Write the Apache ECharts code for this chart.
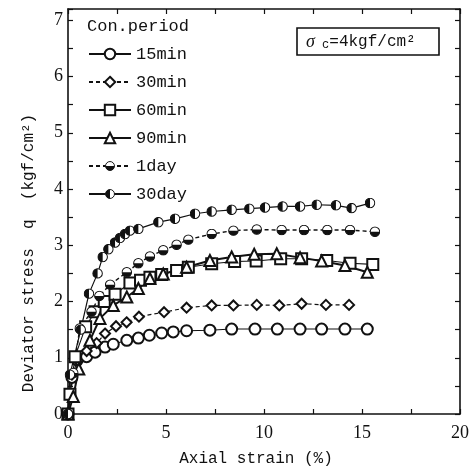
<!DOCTYPE html>
<html>
<head>
<meta charset="utf-8">
<script src="https://cdn.jsdelivr.net/npm/echarts@6/dist/echarts.min.js"></script>
<style>html,body{margin:0;padding:0;background:#fff;}#c{width:472px;height:470px;}</style>
</head>
<body>
<div id="c"></div>
<script>
const seriesNames = ['15min','30min','60min','90min','1day','30day'];
const xTicks = [0,5,10,15,20];
const yTicks = [0,1,2,3,4,5,6,7];

const d15min = [[0,0],[0.2,0.65],[0.48,0.96],[0.95,1.02],[1.38,1.1],[1.89,1.19],[2.31,1.24],[3.0,1.31],[3.59,1.35],[4.15,1.4],[4.78,1.44],[5.37,1.46],[6.05,1.48],[7.24,1.49],[8.35,1.51],[9.54,1.51],[10.68,1.51],[11.84,1.51],[12.94,1.51],[14.13,1.51],[15.27,1.51]];
const d30min = [[0,0],[0.2,0.7],[0.5,0.95],[0.95,1.12],[1.46,1.26],[1.89,1.43],[2.45,1.56],[2.99,1.63],[3.62,1.73],[4.9,1.81],[6.05,1.89],[7.33,1.93],[8.44,1.93],[9.63,1.94],[10.78,1.93],[11.92,1.96],[13.16,1.94],[14.34,1.94]];
const d60min = [[0,0],[0.1,0.35],[0.36,1.02],[0.9,1.55],[1.38,1.82],[1.85,2.0],[2.4,2.13],[3.16,2.33],[3.7,2.38],[4.18,2.43],[4.78,2.48],[5.54,2.55],[6.14,2.61],[7.33,2.67],[8.5,2.71],[9.6,2.72],[10.85,2.76],[11.92,2.76],[13.2,2.73],[14.39,2.68],[15.55,2.66]];
const d90min = [[0,0],[0.27,0.31],[0.55,0.8],[1.12,1.31],[1.63,1.7],[2.31,1.93],[3.0,2.08],[3.59,2.23],[4.18,2.41],[4.86,2.49],[6.05,2.61],[7.24,2.73],[8.35,2.79],[9.5,2.84],[10.65,2.85],[11.84,2.78],[12.94,2.72],[14.13,2.64],[15.27,2.52]];
const d1day = [[0,0],[0.27,0.73],[0.6,1.52],[1.2,1.82],[1.6,2.1],[2.15,2.3],[3.0,2.52],[3.59,2.68],[4.18,2.8],[4.86,2.91],[5.54,3.01],[6.14,3.1],[7.33,3.2],[8.44,3.26],[9.63,3.28],[10.9,3.27],[12.04,3.27],[13.23,3.27],[14.39,3.27],[15.66,3.24]];
const d30day = [[0,0],[0.1,0.7],[0.65,1.5],[1.07,2.14],[1.51,2.5],[1.77,2.79],[2.06,2.93],[2.4,3.05],[2.65,3.13],[2.91,3.2],[3.16,3.26],[3.59,3.29],[4.61,3.41],[5.46,3.47],[6.48,3.56],[7.33,3.6],[8.35,3.63],[9.25,3.65],[10.05,3.67],[10.95,3.69],[11.84,3.69],[12.69,3.72],[13.67,3.71],[14.47,3.66],[15.41,3.75]];

const INK = '#111';
function halfSym(pathD){
  const svg = "<svg xmlns='http://www.w3.org/2000/svg' width='24' height='24' viewBox='0 0 24 24'>" +
    "<circle cx='12' cy='12' r='10.3' fill='white' stroke='#111' stroke-width='2.2'/>" +
    "<path d='" + pathD + "' fill='#111'/></svg>";
  return 'image://data:image/svg+xml;charset=utf-8,' + encodeURIComponent(svg);
}
const symBottom = halfSym('M1.7 12 A10.3 10.3 0 0 0 22.3 12 Z');
const symLeft = halfSym('M12 1.7 A10.3 10.3 0 0 0 12 22.3 Z');

const MONO = 'Liberation Mono';
const SERIF = 'Liberation Serif';

function mk(name, data, symbol, size, lw, type){
  return {
    name, type:'line', data, symbol, symbolSize:size,
    xAxisIndex:0, yAxisIndex:0,
    lineStyle:{color:INK, width:lw, type:type},
    itemStyle:{color:INK, borderColor:INK, borderWidth:1.1},
    emphasis:{disabled:true}, animation:false
  };
}

const chart = echarts.init(document.getElementById('c'), null, {renderer:'canvas'});
function axisCommon(){
  return {
    axisLine:{show:true, onZero:false, lineStyle:{color:INK, width:1.6}},
    axisTick:{show:true, inside:true, length:5, lineStyle:{color:INK, width:1.2}},
    splitLine:{show:false}
  };
}
chart.setOption({
  backgroundColor:'#fff',
  animation:false,
  grid:{left:68, right:12, top:9, bottom:56},
  xAxis:[
    Object.assign({type:'value', min:0, max:20, interval:2.5, position:'bottom',
      axisLabel:{margin:10, color:INK, fontFamily:SERIF, fontSize:18,
        formatter:v => xTicks.indexOf(v) >= 0 ? String(v) : ''}}, axisCommon()),
    Object.assign({type:'value', min:0, max:20, interval:2.5, position:'top',
      axisLabel:{show:false}}, axisCommon())
  ],
  yAxis:[
    Object.assign({type:'value', min:0, max:7.2, interval:0.5, position:'left',
      axisLabel:{margin:5, color:INK, fontFamily:SERIF, fontSize:18,
        formatter:v => yTicks.indexOf(v) >= 0 ? String(v) : ''}}, axisCommon()),
    Object.assign({type:'value', min:0, max:7.2, interval:0.5, position:'right',
      axisLabel:{show:false}}, axisCommon())
  ],
  legend:{
    orient:'vertical', left:83, top:40, itemWidth:42, itemHeight:13, itemGap:10,
    data:seriesNames,
    textStyle:{fontFamily:MONO, fontSize:17, color:INK, lineHeight:18},
    selectedMode:false
  },
  graphic:[
    {type:'text', left:87, top:18, style:{text:'Con.period', font:'17px "Liberation Mono"', fill:INK}},
    {type:'text', x:29, y:253, rotation:Math.PI/2,
      style:{text:'Deviator stress  q  (kgf/cm²)', font:'16px "Liberation Mono"', fill:INK, align:'center', verticalAlign:'middle'}},
    {type:'text', x:256, y:459,
      style:{text:'Axial strain (%)', font:'16px "Liberation Mono"', fill:INK, align:'center', verticalAlign:'middle'}},
    {type:'rect', shape:{x:297, y:28, width:142, height:27}, style:{fill:'#fff', stroke:INK, lineWidth:1.6}},
    {type:'text', x:306, y:42,
      style:{
        text:'{s|σ}{c| c}{t|=4kgf/cm²}', verticalAlign:'middle',
        rich:{
          s:{fontFamily:SERIF, fontStyle:'italic', fontSize:18, fill:INK},
          c:{fontFamily:MONO, fontSize:12, fill:INK, padding:[6,0,0,0]},
          t:{fontFamily:MONO, fontSize:16, fill:INK}
        }
      }}
  ],
  series:[
    mk('15min', d15min, 'emptyCircle', 11, 1.1, 'solid'),
    mk('30min', d30min, 'emptyDiamond', 10, 1.2, [4,3]),
    mk('60min', d60min, 'emptyRect', 11, 1.1, 'solid'),
    mk('90min', d90min, 'emptyTriangle', 11, 2, 'solid'),
    mk('1day', d1day, symBottom, 11, 1.4, [4,3]),
    mk('30day', d30day, symLeft, 11, 1.2, 'solid')
  ]
});
</script>
</body>
</html>
